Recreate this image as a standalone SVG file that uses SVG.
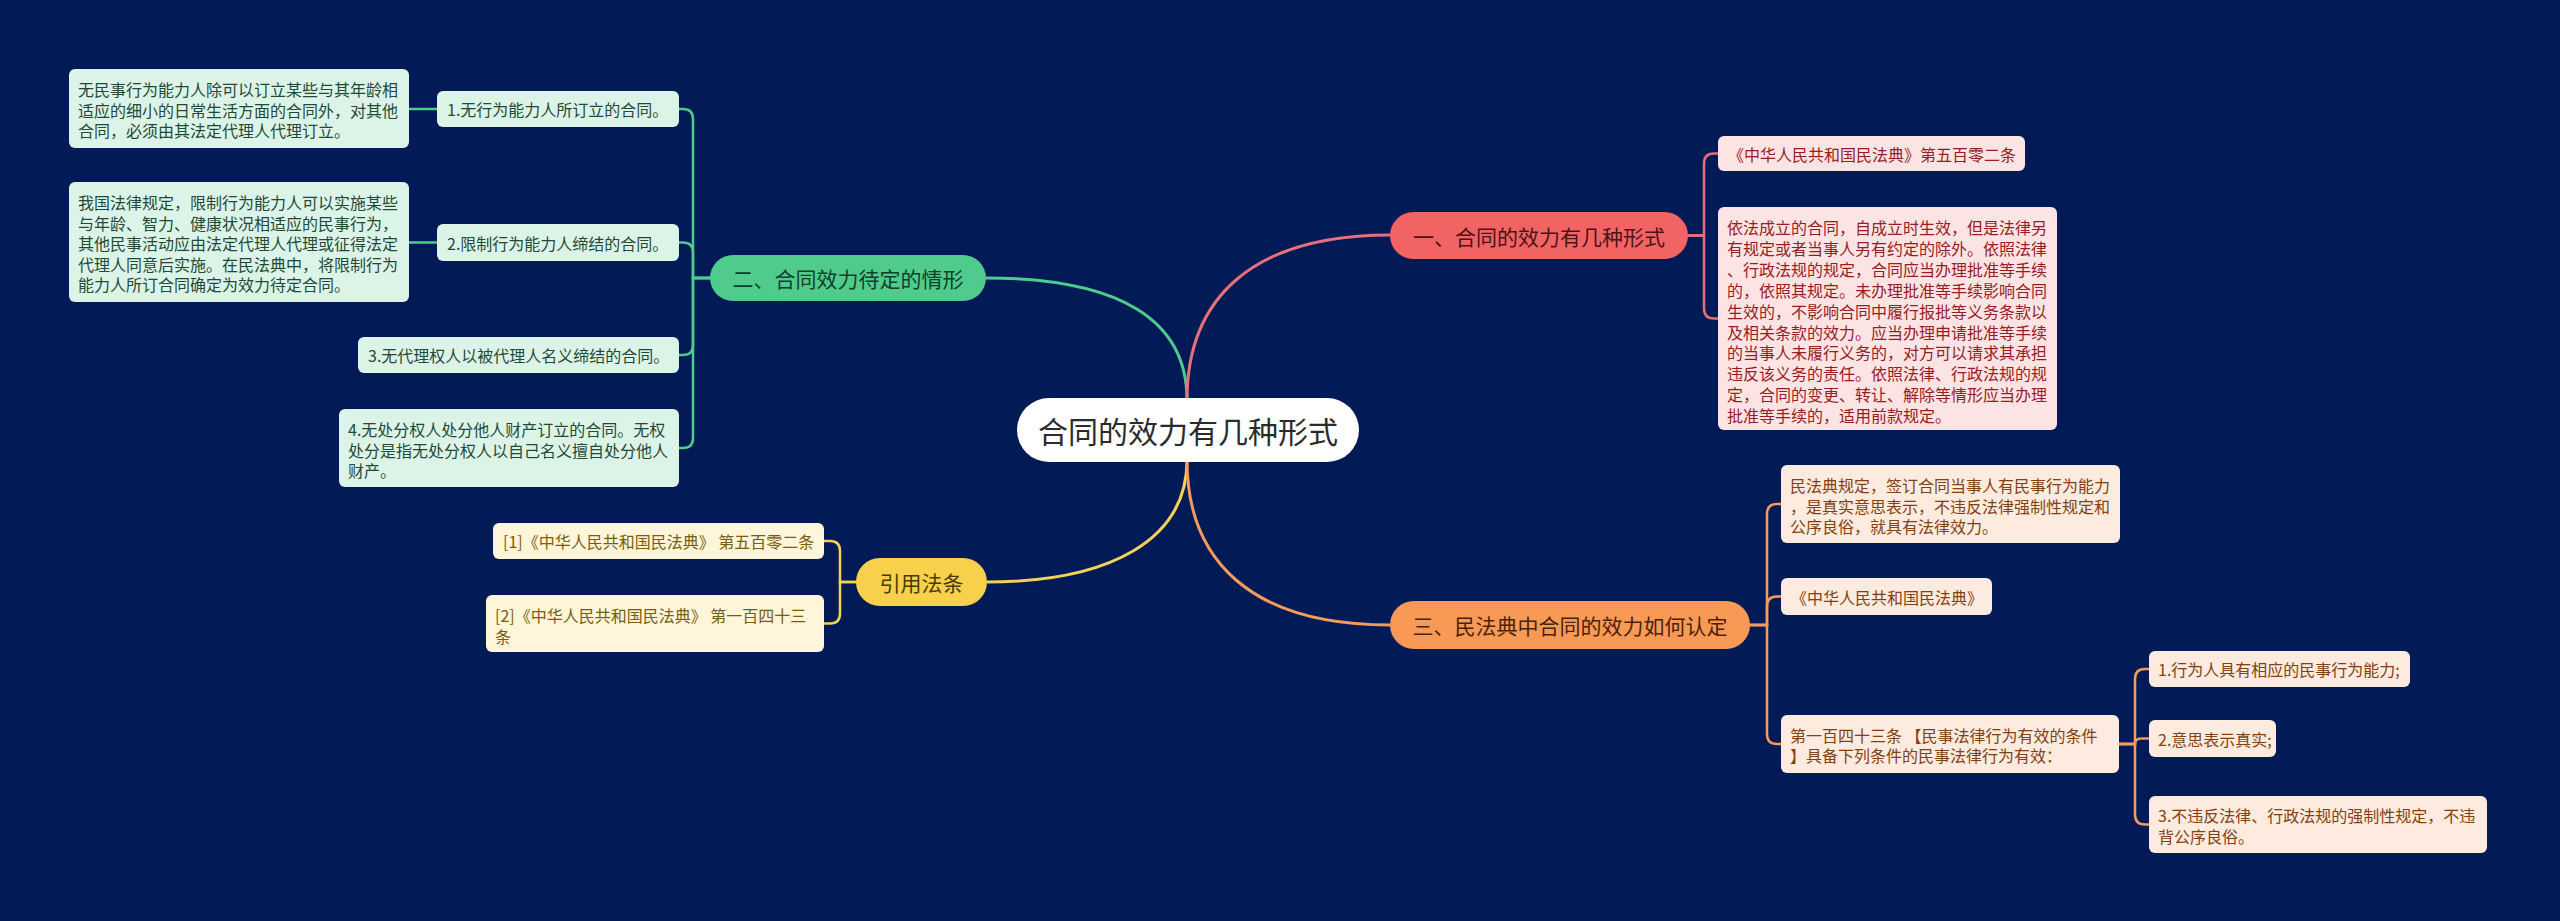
<svg xmlns="http://www.w3.org/2000/svg" width="2560" height="921" viewBox="0 0 2560 921">
<style>
text{font-family:"Noto Sans CJK SC","Noto Sans",sans-serif;dominant-baseline:central}
.leaf{font-size:16px}
.main{font-size:21px;text-anchor:middle}
.gbox{fill:#dcf4e8}.gtxt{fill:#1f4a36}
.rbox{fill:#fde4e4}.rtxt{fill:#9a1b22}
.obox{fill:#fdebdf}.otxt{fill:#84410f}
.ybox{fill:#fef5da}.ytxt{fill:#7a5d06}
.c{fill:none;stroke-width:2.5;stroke-linecap:round}
.cg{stroke:#4fcb8e}.cr{stroke:#e8707a}.co{stroke:#f59c5c}.cy{stroke:#f3d355}
.m{fill:none;stroke-width:3}
</style>
<rect width="2560" height="921" fill="#021b56"/>
<g id="connectors">
<path class="m cg" d="M1187,400 C1187,320 1120,278 986,278"/>
<path class="m cr" d="M1187,400 C1187,300 1250,235 1390,235"/>
<path class="m cy" d="M1187,460 C1187,540 1110,582 987,582"/>
<path class="m co" d="M1187,460 C1187,560 1250,625 1390,625"/>
<path class="c cg" d="M409,109 H437"/>
<path class="c cg" d="M409,242.5 H437"/>
<path class="c cg" d="M710,278 H693 V119 Q693,109 683,109 H679"/>
<path class="c cg" d="M710,278 H693 V252.5 Q693,242.5 683,242.5 H679"/>
<path class="c cg" d="M710,278 H693 V345 Q693,355 683,355 H679"/>
<path class="c cg" d="M710,278 H693 V438 Q693,448 683,448 H679"/>
<path class="c cr" d="M1688,235.5 H1704 V163.5 Q1704,153.5 1714,153.5 H1718"/>
<path class="c cr" d="M1688,235.5 H1704 V308.5 Q1704,318.5 1714,318.5 H1718"/>
<path class="c co" d="M1750,625 H1767 V514 Q1767,504 1777,504 H1781"/>
<path class="c co" d="M1750,625 H1767 V606.5 Q1767,596.5 1777,596.5 H1781"/>
<path class="c co" d="M1750,625 H1767 V734 Q1767,744 1777,744 H1781"/>
<path class="c co" d="M2119,744 H2135 V679 Q2135,669 2145,669 H2149"/>
<path class="c co" d="M2119,744 H2135 Q2135,738.5 2141,738.5 H2149"/>
<path class="c co" d="M2119,744 H2135 V814.5 Q2135,824.5 2145,824.5 H2149"/>
<path class="c cy" d="M856,582 H840 V551 Q840,541 830,541 H824"/>
<path class="c cy" d="M856,582 H840 V613.5 Q840,623.5 830,623.5 H824"/>
</g>
<g id="center">
<rect x="1017" y="398" width="342" height="64" rx="32" fill="#ffffff"/>
<text x="1188" y="430" font-size="30" text-anchor="middle" fill="#2b2b2b">合同的效力有几种形式</text>
</g>
<g id="n-green">
<rect x="710" y="255" width="276" height="46" rx="23" fill="#4fcb8e"/>
<text class="main" x="848" y="278" fill="#123f29">二、合同效力待定的情形</text>
</g>
<g id="g-a1">
<rect class="gbox" x="69" y="69" width="340" height="79" rx="6"/>
<text class="leaf gtxt" x="78"><tspan x="78" y="89">无民事行为能力人除可以订立某些与其年龄相</tspan><tspan x="78" y="109.5">适应的细小的日常生活方面的合同外，对其他</tspan><tspan x="78" y="130">合同，必须由其法定代理人代理订立。</tspan></text>
</g>
<g id="g-l1">
<rect class="gbox" x="437" y="91" width="242" height="36" rx="6"/>
<text class="leaf gtxt" x="447" y="109">1.无行为能力人所订立的合同。</text>
</g>
<g id="g-a2">
<rect class="gbox" x="69" y="182" width="340" height="120" rx="6"/>
<text class="leaf gtxt"><tspan x="78" y="202">我国法律规定，限制行为能力人可以实施某些</tspan><tspan x="78" y="222.5">与年龄、智力、健康状况相适应的民事行为，</tspan><tspan x="78" y="243">其他民事活动应由法定代理人代理或征得法定</tspan><tspan x="78" y="263.5">代理人同意后实施。在民法典中，将限制行为</tspan><tspan x="78" y="284">能力人所订合同确定为效力待定合同。</tspan></text>
</g>
<g id="g-l2">
<rect class="gbox" x="437" y="224" width="242" height="37" rx="6"/>
<text class="leaf gtxt" x="447" y="242.5">2.限制行为能力人缔结的合同。</text>
</g>
<g id="g-l3">
<rect class="gbox" x="358" y="337" width="321" height="36" rx="6"/>
<text class="leaf gtxt" x="368" y="355">3.无代理权人以被代理人名义缔结的合同。</text>
</g>
<g id="g-l4">
<rect class="gbox" x="339" y="409" width="340" height="78" rx="6"/>
<text class="leaf gtxt"><tspan x="348" y="429">4.无处分权人处分他人财产订立的合同。无权</tspan><tspan x="348" y="449.5">处分是指无处分权人以自己名义擅自处分他人</tspan><tspan x="348" y="470">财产。</tspan></text>
</g>
<g id="n-yellow">
<rect x="856" y="558" width="131" height="48" rx="24" fill="#f7d14b"/>
<text class="main" x="921.5" y="582" fill="#4a3a00">引用法条</text>
</g>
<g id="y-1">
<rect class="ybox" x="493" y="523" width="331" height="36" rx="6"/>
<text class="leaf ytxt" x="503" y="541">[1]《中华人民共和国民法典》 第五百零二条</text>
</g>
<g id="y-2">
<rect class="ybox" x="486" y="595" width="338" height="57" rx="6"/>
<text class="leaf ytxt"><tspan x="495" y="615">[2]《中华人民共和国民法典》 第一百四十三</tspan><tspan x="495" y="635.5">条</tspan></text>
</g>
<g id="n-red">
<rect x="1390" y="212" width="298" height="47" rx="23.5" fill="#f26464"/>
<text class="main" x="1539" y="235.5" fill="#4a1414">一、合同的效力有几种形式</text>
</g>
<g id="r-1">
<rect class="rbox" x="1718" y="136" width="307" height="35" rx="6"/>
<text class="leaf rtxt" x="1728" y="153.5">《中华人民共和国民法典》第五百零二条</text>
</g>
<g id="r-2">
<rect class="rbox" x="1718" y="207" width="339" height="223" rx="6"/>
<text class="leaf rtxt"><tspan x="1727" y="227">依法成立的合同，自成立时生效，但是法律另</tspan><tspan x="1727" y="247.9">有规定或者当事人另有约定的除外。依照法律</tspan><tspan x="1727" y="268.8">、行政法规的规定，合同应当办理批准等手续</tspan><tspan x="1727" y="289.7">的，依照其规定。未办理批准等手续影响合同</tspan><tspan x="1727" y="310.6">生效的，不影响合同中履行报批等义务条款以</tspan><tspan x="1727" y="331.5">及相关条款的效力。应当办理申请批准等手续</tspan><tspan x="1727" y="352.4">的当事人未履行义务的，对方可以请求其承担</tspan><tspan x="1727" y="373.3">违反该义务的责任。依照法律、行政法规的规</tspan><tspan x="1727" y="394.2">定，合同的变更、转让、解除等情形应当办理</tspan><tspan x="1727" y="415.1">批准等手续的，适用前款规定。</tspan></text>
</g>
<g id="n-orange">
<rect x="1390" y="601" width="360" height="48" rx="24" fill="#f89a55"/>
<text class="main" x="1570" y="625" fill="#4a230a">三、民法典中合同的效力如何认定</text>
</g>
<g id="o-1">
<rect class="obox" x="1781" y="465" width="339" height="78" rx="6"/>
<text class="leaf otxt"><tspan x="1790" y="485">民法典规定，签订合同当事人有民事行为能力</tspan><tspan x="1790" y="505.5">，是真实意思表示，不违反法律强制性规定和</tspan><tspan x="1790" y="526">公序良俗，就具有法律效力。</tspan></text>
</g>
<g id="o-2">
<rect class="obox" x="1781" y="578" width="211" height="37" rx="6"/>
<text class="leaf otxt" x="1791" y="596.5">《中华人民共和国民法典》</text>
</g>
<g id="o-3">
<rect class="obox" x="1781" y="715" width="338" height="58" rx="6"/>
<text class="leaf otxt"><tspan x="1790" y="734.5">第一百四十三条 【民事法律行为有效的条件</tspan><tspan x="1790" y="755">】具备下列条件的民事法律行为有效：</tspan></text>
</g>
<g id="o-3a">
<rect class="obox" x="2149" y="651" width="261" height="36" rx="6"/>
<text class="leaf otxt" x="2158" y="669">1.行为人具有相应的民事行为能力;</text>
</g>
<g id="o-3b">
<rect class="obox" x="2149" y="720" width="127" height="37" rx="6"/>
<text class="leaf otxt" x="2158" y="738.5">2.意思表示真实;</text>
</g>
<g id="o-3c">
<rect class="obox" x="2149" y="796" width="338" height="57" rx="6"/>
<text class="leaf otxt"><tspan x="2158" y="815">3.不违反法律、行政法规的强制性规定，不违</tspan><tspan x="2158" y="835.5">背公序良俗。</tspan></text>
</g>
</svg>
